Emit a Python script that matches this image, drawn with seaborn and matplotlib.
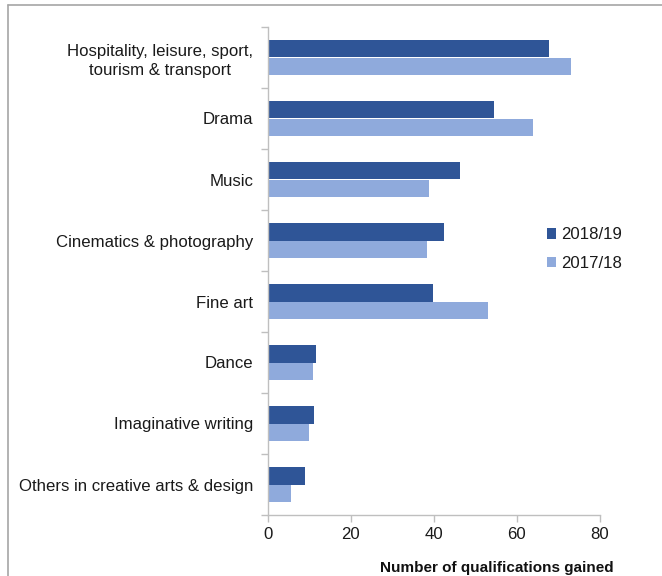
import matplotlib
matplotlib.use("Agg")
import matplotlib.pyplot as plt
import seaborn as sns
import pandas as pd
from matplotlib.lines import Line2D

subjects = [
    "Hospitality, leisure, sport,\ntourism & transport",
    "Drama",
    "Music",
    "Cinematics & photography",
    "Fine art",
    "Dance",
    "Imaginative writing",
    "Others in creative arts & design",
]
years = ["2018/19", "2017/18"]
values_2018_19 = [67.8, 54.5, 46.3, 42.5, 39.8, 11.5, 11.1, 8.9]
values_2017_18 = [72.9, 63.9, 38.9, 38.4, 53.0, 10.9, 9.9, 5.5]
x_ticks = [0, 20, 40, 60, 80]

df = pd.DataFrame({
    "subject": subjects * 2,
    "year": [years[0]] * len(subjects) + [years[1]] * len(subjects),
    "value": values_2018_19 + values_2017_18,
})

sns.set_theme(style="white")
plt.rcParams["font.family"] = ["Liberation Sans", "DejaVu Sans"]

fig = plt.figure(figsize=(6.62, 5.76), dpi=100)
ax = fig.add_axes([268 / 662, 1 - 515 / 576, 332 / 662, 488 / 576])

palette = {"2018/19": "#2F5597", "2017/18": "#8FAADC"}
sns.barplot(data=df, y="subject", x="value", hue="year", order=subjects,
            hue_order=years, palette=palette, orient="h", width=0.575,
            saturation=1, ax=ax, edgecolor="none")

ax.set_xlim(0, 80)
ax.set_ylim(len(subjects) - 0.5, -0.5)
ax.set_xticks(x_ticks)
ax.set_xticklabels([str(t) for t in x_ticks])
ax.set_ylabel("")
ax.set_xlabel("Number of qualifications gained", fontweight="bold",
              fontsize=11, color="#111111", ha="right")
ax.xaxis.set_label_coords(1.04, -0.095)

spine_color = "#BFBFBF"
for side in ["top", "right"]:
    ax.spines[side].set_visible(False)
for side in ["left", "bottom"]:
    ax.spines[side].set_color(spine_color)
    ax.spines[side].set_linewidth(1.0)

# category labels without marks; marks sit between categories
ax.tick_params(axis="y", length=0, pad=10.5, labelsize=12.1, labelcolor="#1a1a1a")
for lbl in ax.get_yticklabels():
    lbl.set_multialignment("center")
    lbl.set_linespacing(1.3)
ax.set_yticks([i + 0.5 for i in range(-1, len(subjects))], minor=True)
ax.tick_params(axis="y", which="minor", length=5, width=1, color=spine_color, left=True)
ax.tick_params(axis="x", length=5, width=1, color=spine_color, bottom=True,
               labelsize=12.1, labelcolor="#1a1a1a", pad=3.5)

leg = ax.legend(loc="center left", bbox_to_anchor=(0.84, 0.545), frameon=False,
                fontsize=12.1, handlelength=0.55, handleheight=0.55,
                handletextpad=0.3, labelspacing=0.78, borderpad=0, borderaxespad=0)
for t in leg.get_texts():
    t.set_color("#1a1a1a")

# outer frame lines
fig.add_artist(Line2D([8 / 662, 8 / 662], [0, 1 - 5 / 576], transform=fig.transFigure,
                      color="#A6A6A6", lw=1.2))
fig.add_artist(Line2D([8 / 662, 1], [1 - 5 / 576, 1 - 5 / 576], transform=fig.transFigure,
                      color="#A6A6A6", lw=1.2))

fig.savefig("out.png", dpi=100)
